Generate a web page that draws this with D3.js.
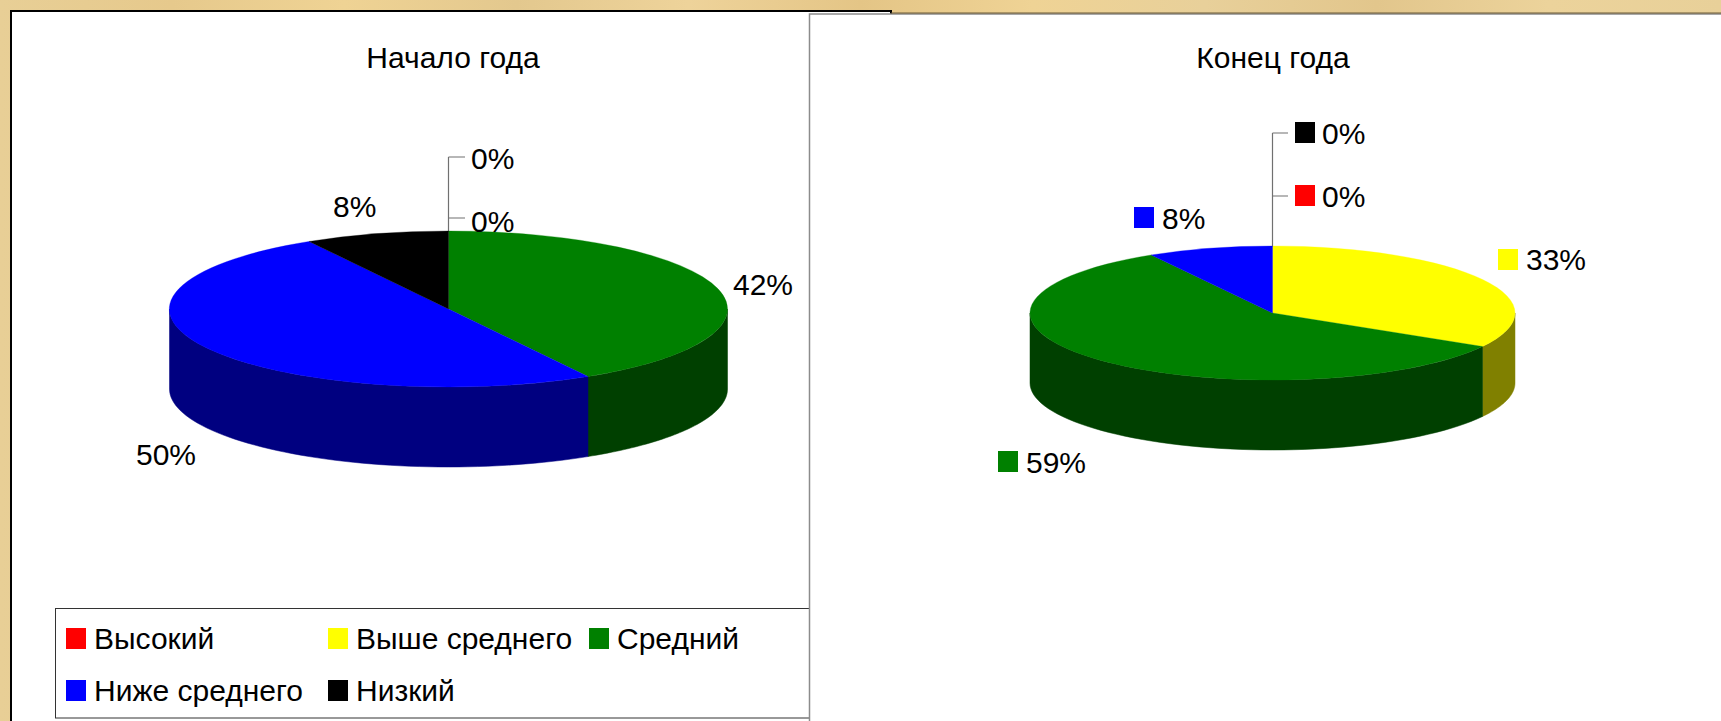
<!DOCTYPE html>
<html>
<head>
<meta charset="utf-8">
<script src="https://cdn.jsdelivr.net/npm/d3@7"></script>
<style>
html, body { margin: 0; padding: 0; background: #e9cf94; overflow: hidden; }
text { font-family: "Liberation Sans", Arial, sans-serif; fill: #000; }
</style>
</head>
<body>
<div id="main"></div>
<script>
var categories = ['Высокий', 'Выше среднего', 'Средний', 'Ниже среднего', 'Низкий'];
var topColors = ['#ff0000', '#ffff00', '#008000', '#0000ff', '#000000'];
var sideColors = ['#800000', '#808000', '#004000', '#000080', '#000000'];
// slice sizes read from the slice edges, they land on twelfths
var startCounts = [0, 0, 5, 6, 1];
var endCounts = [0, 4, 7, 1, 0];
// percentages as printed on the chart
var startLabels = [0, 0, 42, 50, 8];
var endLabels = [0, 33, 59, 8, 0];
var startTitle = 'Начало года';
var endTitle = 'Конец года';

var width = 1721, height = 721;

var svg = d3.select('#main').append('svg')
    .attr('width', width)
    .attr('height', height)
    .style('display', 'block');

// tan backdrop, a soft streaky gradient
var grad = svg.append('defs').append('linearGradient').attr('id', 'bg');
var bgStops = ['#e8cf96', '#e6c98c', '#efd394', '#e3c88e', '#eed39a', '#e4c586', '#efd395', '#e8d09a', '#e2c68c', '#ecd39b', '#e8d099'];
bgStops.forEach(function (c, i) {
    grad.append('stop').attr('offset', i / (bgStops.length - 1)).attr('stop-color', c);
});
svg.append('rect').attr('width', width).attr('height', height).attr('fill', 'url(#bg)');

// left panel
svg.append('rect').attr('x', 11).attr('y', 11).attr('width', 880).attr('height', 720)
    .attr('fill', '#fff').attr('stroke', '#000').attr('stroke-width', 2);

function drawPie(g, values, o) {
    var pie = d3.pie().sort(null).value(function (d) { return d; })(values);
    var arc = d3.arc().innerRadius(0).outerRadius(o.rx);
    var tau = 2 * Math.PI;

    var wall = d3.area()
        .x(function (a) { return o.cx + o.rx * Math.sin(a); })
        .y0(function (a) { return o.cy - o.ry * Math.cos(a); })
        .y1(function (a) { return o.cy - o.ry * Math.cos(a) + o.depth; });

    // walls only on the near half of the ellipse
    pie.forEach(function (p) {
        var a0 = Math.max(p.startAngle, tau / 4), a1 = Math.min(p.endAngle, tau * 3 / 4);
        if (a1 <= a0) return;
        g.append('path')
            .attr('d', wall(d3.range(0, 61).map(function (i) { return a0 + (a1 - a0) * i / 60; })))
            .attr('fill', sideColors[p.index])
            .attr('stroke', sideColors[p.index])
            .attr('stroke-width', 0.5);
    });

    var top = g.append('g')
        .attr('transform', 'translate(' + o.cx + ',' + o.cy + ') scale(1,' + (o.ry / o.rx) + ')');
    top.selectAll('path')
        .data(pie.filter(function (p) { return p.value > 0; }))
        .enter().append('path')
        .attr('d', arc)
        .attr('fill', function (p) { return topColors[p.index]; })
        .attr('stroke', function (p) { return topColors[p.index]; })
        .attr('stroke-width', 0.5);
}

function drawLeader(g, x, y0, y1, ticks, tickEnd) {
    g.append('path')
        .attr('d', 'M' + x + ',' + y1 + 'V' + y0 + ticks.map(function (t) {
            return 'M' + x + ',' + t + 'H' + tickEnd;
        }).join(''))
        .attr('fill', 'none')
        .attr('stroke', '#707070')
        .attr('stroke-width', 1.2);
}

function pct(v) { return v + '%'; }

function label(g, x, y, txt, size) {
    return g.append('text')
        .attr('x', x).attr('y', y)
        .attr('dominant-baseline', 'central')
        .attr('font-size', size)
        .text(txt);
}

function swatch(g, x, y, idx) {
    g.append('rect')
        .attr('x', x).attr('y', y)
        .attr('width', 20).attr('height', 21)
        .attr('fill', topColors[idx]);
}

// left chart
var left = svg.append('g');
left.append('text').attr('x', 453).attr('y', 57)
    .attr('text-anchor', 'middle').attr('dominant-baseline', 'central')
    .attr('font-size', 30).text(startTitle);

drawLeader(left, 448.5, 157, 232, [157, 218], 465);
drawPie(left, startCounts, {cx: 448.5, cy: 309, rx: 279, ry: 78, depth: 80});

label(left, 471, 158, pct(startLabels[0]), 30);
label(left, 471, 221, pct(startLabels[1]), 30);
label(left, 333, 206, pct(startLabels[4]), 30);
label(left, 733, 284, pct(startLabels[2]), 30);
label(left, 136, 454, pct(startLabels[3]), 30);

// legend
var legend = svg.append('g');
legend.append('rect').attr('x', 55.5).attr('y', 608.5).attr('width', 760).attr('height', 109.5)
    .attr('fill', '#fff').attr('stroke', '#333');
var legendCols = [66, 328, 589, 66, 328];
var legendRows = [628, 628, 628, 680, 680];
categories.forEach(function (c, i) {
    swatch(legend, legendCols[i], legendRows[i], i);
    label(legend, legendCols[i] + 28, legendRows[i] + 10.5, c, 30);
});

// right panel on top of the left one
svg.append('rect').attr('x', 809.5).attr('y', 14).attr('width', 930).attr('height', 720)
    .attr('fill', '#fff').attr('stroke', '#8c8c8c').attr('stroke-width', 1.5);
svg.append('line').attr('x1', 891).attr('x2', width).attr('y1', 13).attr('y2', 13)
    .attr('stroke', '#6b5a38').attr('stroke-width', 1);

// right chart
var right = svg.append('g');
right.append('text').attr('x', 1273).attr('y', 57)
    .attr('text-anchor', 'middle').attr('dominant-baseline', 'central')
    .attr('font-size', 30).text(endTitle);

drawLeader(right, 1272.5, 133, 247, [133, 196], 1288);
drawPie(right, endCounts, {cx: 1272.5, cy: 313, rx: 242.5, ry: 67, depth: 70});

swatch(right, 1295, 122, 4);
label(right, 1322, 133, pct(endLabels[4]), 30);
swatch(right, 1295, 185, 0);
label(right, 1322, 196, pct(endLabels[0]), 30);
swatch(right, 1134, 207, 3);
label(right, 1162, 218, pct(endLabels[3]), 30);
swatch(right, 1498, 249, 1);
label(right, 1526, 259, pct(endLabels[1]), 30);
swatch(right, 998, 451, 2);
label(right, 1026, 462, pct(endLabels[2]), 30);
</script>
</body>
</html>
